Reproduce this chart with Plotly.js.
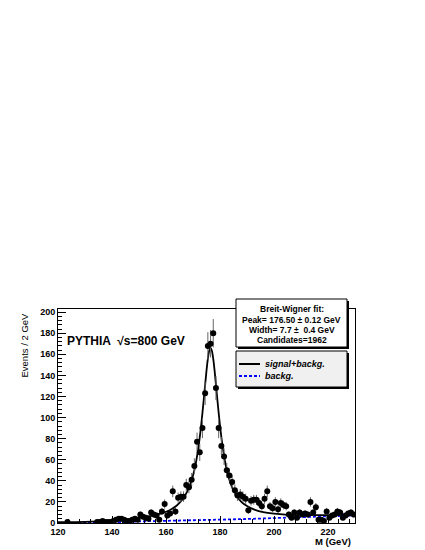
<!DOCTYPE html>
<html>
<head>
<meta charset="utf-8">
<script src="https://cdn.plot.ly/plotly-3.0.1.min.js"></script>
<style>
  body { margin: 0; background: #fff; }
  #chart { width: 425px; height: 550px; }
</style>
</head>
<body>
<div id="chart"></div>
<script>
(function() {
  // histogram: bin centres (GeV) and entries, empty bins left out
  var massPts = [123.5,
    134.5,135.5,136.5,137.5,138.5,139.5,140.5,141.5,142.5,143.5,144.5,145.5,146.5,147.5,148.5,149.5,
    150.5,151.5,152.5,153.5,154.5,155.5,156.5,157.5,158.5,159.5,160.5,161.5,162.5,163.5,164.5,165.5,
    166.5,167.5,168.5,169.5,170.5,171.5,172.5,173.5,174.5,175.5,176.5,177.5,178.5,179.5,180.5,181.5,
    182.5,183.5,184.5,185.5,186.5,187.5,188.5,189.5,190.5,191.5,192.5,193.5,194.5,195.5,196.5,197.5,
    198.5,199.5,200.5,201.5,202.5,203.5,204.5,205.5,206.5,207.5,208.5,209.5,210.5,211.5,212.5,213.5,
    214.5,215.5,216.5,217.5,218.5,219.5,220.5,221.5,222.5,223.5,224.5,225.5,226.5,227.5,228.5,229.5];
  var counts = [1,
    1,1,2,1,1,1,2,3,4,4,3,2,1,3,4,3,
    8,6,5,4,10,8,7,3,11,18,7,9,30,11,24,25,
    25,36,34,41,54,77,67,90,123,168,170,180,128,90,73,63,
    50,45,39,31,26,27,25,23,12,21,22,22,19,16,23,30,
    16,14,20,13,19,17,16,8,5,10,5,10,8,9,8,20,
    10,15,3,3,2,11,5,7,8,11,10,5,7,9,10,8];

  // fitted signal+background curve
  var fitM = [120,130,140,145,150,155,158,160,162,164,166,168,169,170,171,172,173,174,175,175.5,
              176,176.5,177,177.5,178,179,180,181,182,183,184,185,186,188,190,193,196,200,205,210,
              215,220,225,230];
  var fitVal = [0.8,1.1,2.3,3.4,4.9,7,8.9,10.7,13.1,16.6,22,30.5,36.8,45,56.2,71.8,92.2,117.6,144.5,155.7,
                163.3,166,163.3,155.7,144.5,117.6,92.3,71.9,56.4,45.2,37,30.8,26.3,19.8,16.1,12.4,10.3,8.8,7.8,7.4,
                7.4,7.5,7.7,8.0];

  // background-only component
  var bkgM = [120,130,140,150,160,170,180,190,200,210,220,230];
  var bkgVal = [0,0,0.5,1.5,2.3,2.8,3.2,3.8,4.5,5.3,6.2,7.2];

  var infoLines = ['Breit-Wigner fit:', 'Peak= 176.50 \u00b1 0.12 GeV',
                   'Width= 7.7 \u00b1  0.4 GeV', 'Candidates=1962'];

  var FONT = 'Liberation Sans, Arial, Helvetica, sans-serif';

  // pixel -> paper helpers for the overlay boxes
  function px(x) { return (x - 58) / 297; }
  function py(y) { return (523 - y) / 214; }

  var traces = [
    {
      x: bkgM, y: bkgVal, type: 'scatter', mode: 'lines',
      line: {color: '#0000ff', width: 1.8, dash: '3px,2px'}, hoverinfo: 'skip'
    },
    {
      x: fitM, y: fitVal, type: 'scatter', mode: 'lines',
      line: {color: '#000', width: 1.8, shape: 'spline', smoothing: 0.6}, hoverinfo: 'skip'
    },
    {
      x: massPts, y: counts, type: 'scatter', mode: 'markers',
      marker: {color: '#000', size: 6, symbol: 'circle'},
      error_y: {type: 'data', array: counts.map(function(n) { return Math.sqrt(n); }),
                color: '#666', thickness: 1, width: 0}
    }
  ];

  var shapes = [
    // stats box
    {type: 'rect', xref: 'paper', yref: 'paper', x0: px(238), x1: px(349), y0: py(301), y1: py(349),
     fillcolor: '#000', line: {width: 0}, layer: 'above'},
    {type: 'rect', xref: 'paper', yref: 'paper', x0: px(236), x1: px(347), y0: py(299), y1: py(347),
     fillcolor: '#fff', line: {color: '#000', width: 1}, layer: 'above'},
    // legend box
    {type: 'rect', xref: 'paper', yref: 'paper', x0: px(238), x1: px(349), y0: py(353), y1: py(389),
     fillcolor: '#000', line: {width: 0}, layer: 'above'},
    {type: 'rect', xref: 'paper', yref: 'paper', x0: px(236), x1: px(347), y0: py(351), y1: py(387),
     fillcolor: '#f0f0f0', line: {color: '#000', width: 1}, layer: 'above'},
    {type: 'line', xref: 'paper', yref: 'paper', x0: px(239), x1: px(260), y0: py(364), y1: py(364),
     line: {color: '#000', width: 2}, layer: 'above'},
    {type: 'line', xref: 'paper', yref: 'paper', x0: px(239), x1: px(260), y0: py(376), y1: py(376),
     line: {color: '#0000ff', width: 2, dash: '3px,2px'}, layer: 'above'}
  ];

  var annotations = [
    {xref: 'paper', yref: 'paper', x: px(65), y: py(341), xanchor: 'left', yanchor: 'middle',
     text: 'PYTHIA  \u221as=800 GeV', showarrow: false,
     font: {family: FONT, size: 12, color: '#000', weight: 'bold'}},
    {xref: 'paper', yref: 'paper', x: px(24), y: py(345.5), xanchor: 'center', yanchor: 'middle',
     text: 'Events / 2 GeV', textangle: -90, showarrow: false,
     font: {family: FONT, size: 9.5, color: '#000'}},
    {xref: 'paper', yref: 'paper', x: px(353), y: py(541), xanchor: 'right', yanchor: 'middle',
     text: 'M (GeV)', showarrow: false,
     font: {family: FONT, size: 9.5, color: '#000', weight: 'bold'}},
    {xref: 'paper', yref: 'paper', x: px(263), y: py(364), xanchor: 'left', yanchor: 'middle',
     text: 'signal+backg.', showarrow: false,
     font: {family: FONT, size: 9, color: '#000', weight: 'bold', style: 'italic'}},
    {xref: 'paper', yref: 'paper', x: px(263), y: py(376), xanchor: 'left', yanchor: 'middle',
     text: 'backg.', showarrow: false,
     font: {family: FONT, size: 9, color: '#000', weight: 'bold', style: 'italic'}}
  ];
  var infoY = [309, 319.5, 329.5, 339.5];
  infoLines.forEach(function(t, i) {
    annotations.push({xref: 'paper', yref: 'paper', x: px(291.5), y: py(infoY[i]),
      xanchor: 'center', yanchor: 'middle', text: t, showarrow: false,
      font: {family: FONT, size: 8.5, color: '#000', weight: 'bold'}});
  });

  var layout = {
    width: 425, height: 550,
    margin: {l: 58, r: 70, t: 309, b: 27},
    paper_bgcolor: '#fff', plot_bgcolor: '#fff',
    showlegend: false,
    xaxis: {
      range: [120, 230], tick0: 120, dtick: 20, ticks: 'inside', ticklen: 7,
      tickcolor: '#000', showgrid: false, zeroline: false,
      showline: true, mirror: true, linecolor: '#000', linewidth: 1,
      tickfont: {family: FONT, size: 9, color: '#000', weight: 'bold'},
      minor: {ticks: 'inside', dtick: 4, ticklen: 4, tickcolor: '#000', showgrid: false}
    },
    yaxis: {
      range: [0, 203], tick0: 0, dtick: 20, ticks: 'inside', ticklen: 8,
      tickcolor: '#000', showgrid: false, zeroline: false,
      showline: true, mirror: true, linecolor: '#000', linewidth: 1,
      tickfont: {family: FONT, size: 9, color: '#000', weight: 'bold'},
      minor: {ticks: 'inside', dtick: 4, ticklen: 4, tickcolor: '#000', showgrid: false}
    },
    shapes: shapes,
    annotations: annotations
  };

  Plotly.newPlot('chart', traces, layout, {displayModeBar: false, staticPlot: true});
})();
</script>
</body>
</html>
